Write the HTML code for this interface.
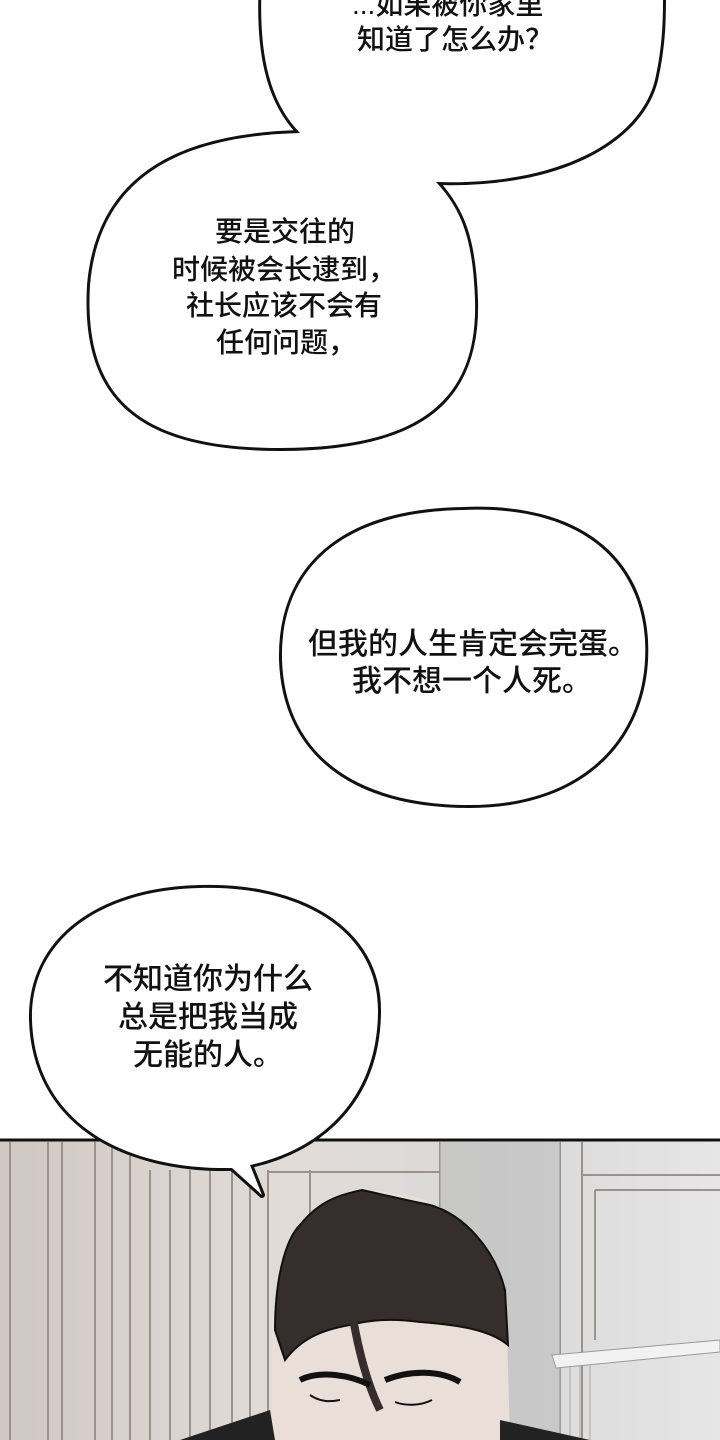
<!DOCTYPE html>
<html><head><meta charset="utf-8"><style>
html,body{margin:0;padding:0;background:#fff;}
body{width:720px;height:1440px;position:relative;overflow:hidden;font-family:"Liberation Sans","Noto Sans CJK SC",sans-serif;}
svg{position:absolute;left:0;top:0;}
.t{position:absolute;color:#111;white-space:nowrap;font-weight:500;}
.a{font-size:28px;line-height:28px;}
.b{font-size:30px;line-height:30px;}
</style></head><body>
<svg width="720" height="1440" viewBox="0 0 720 1440">
<defs>
<linearGradient id="bg" x1="0" x2="1" y1="0" y2="0">
<stop offset="0" stop-color="#cfc7c2"/><stop offset="0.4" stop-color="#e2dcd8"/><stop offset="0.7" stop-color="#d8d8d8"/><stop offset="1" stop-color="#e6e6e6"/>
</linearGradient>
</defs>
<rect x="0" y="1140" width="720" height="300" fill="url(#bg)"/>
<g stroke="#9c928d" stroke-width="2" fill="none">
<line x1="10" y1="1142" x2="10" y2="1440"/><line x1="48" y1="1142" x2="48" y2="1440"/>
<line x1="62" y1="1142" x2="62" y2="1440"/><line x1="95" y1="1142" x2="95" y2="1440"/>
<line x1="112" y1="1142" x2="112" y2="1440"/><line x1="130" y1="1150" x2="130" y2="1440"/>
<line x1="150" y1="1170" x2="150" y2="1440"/><line x1="170" y1="1170" x2="170" y2="1440"/>
<line x1="190" y1="1170" x2="190" y2="1440"/><line x1="210" y1="1170" x2="210" y2="1440"/>
<line x1="232" y1="1170" x2="232" y2="1440"/><line x1="250" y1="1170" x2="250" y2="1440"/>
<line x1="268" y1="1170" x2="268" y2="1440"/><line x1="310" y1="1170" x2="310" y2="1240"/>
<line x1="268" y1="1172" x2="440" y2="1172"/><line x1="440" y1="1142" x2="440" y2="1250"/>
<line x1="560" y1="1142" x2="560" y2="1440"/><line x1="582" y1="1142" x2="582" y2="1440"/>
<line x1="582" y1="1175" x2="720" y2="1175"/><line x1="595" y1="1190" x2="720" y2="1190"/>
<line x1="595" y1="1190" x2="595" y2="1340"/>
</g>
<rect x="440" y="1142" width="120" height="298" fill="#bdbdbd" opacity="0.6"/>
<path d="M552,1355 L720,1340 L720,1352 L556,1368 Z" fill="#f2f2f2" stroke="#999"/>
<g stroke="#aaa"><line x1="560" y1="1368" x2="560" y2="1440"/><line x1="570" y1="1366" x2="570" y2="1440"/><line x1="580" y1="1365" x2="580" y2="1440"/><line x1="590" y1="1364" x2="590" y2="1440"/></g>
<path d="M272,1440 L272,1330 C272,1290 285,1240 300,1225 C320,1200 340,1195 360,1188 L410,1196 C440,1200 480,1230 500,1270 L507,1330 L510,1440 Z" fill="#eaded9"/>
<path d="M275,1330 C275,1280 285,1240 300,1225 C320,1200 340,1195 362,1190 C385,1195 405,1200 430,1205 C465,1215 495,1250 505,1290 L508,1345 C490,1330 460,1325 420,1322 C390,1318 370,1320 350,1325 C320,1330 300,1340 285,1360 Z" fill="#352e2c" stroke="#111" stroke-width="2"/>
<path d="M350,1300 C356,1340 365,1380 380,1410" stroke="#352e2c" stroke-width="8" fill="none"/>
<path d="M300,1380 C320,1370 350,1375 370,1385 M385,1380 C410,1370 440,1370 460,1382" stroke="#111" stroke-width="6" fill="none"/>
<path d="M310,1395 C320,1402 330,1402 340,1400 M395,1402 C405,1406 420,1406 432,1400" stroke="#111" stroke-width="2" fill="none"/>
<path d="M180,1440 L270,1410 L275,1440 Z M500,1420 L590,1440 L500,1440 Z" fill="#222"/>
<line x1="0" y1="1140" x2="720" y2="1140" stroke="#111" stroke-width="3"/>
<g id="shapes" fill="#111" stroke="#111" stroke-width="6" stroke-linejoin="round">
<path d="M262,-20 C258,50 268,100 300,133 C340,165 390,182 436,182 C560,186 640,140 655,80 C664,40 663,10 663,-20 Z"/>
<path d="M300,133 C190,136 100,170 90,285 C84,390 130,448 280,448 C420,448 478,400 475,300 C473,240 462,210 436,182 C400,150 350,135 300,133 Z"/>
<path d="M463,510 C580,505 640,560 645,640 C650,730 590,805 470,805 C350,805 285,750 282,660 C280,570 340,512 463,510 Z"/>
<path d="M200,888 C300,885 378,930 378,1010 C378,1100 320,1150 250,1165 L262,1195 L232,1168 C120,1170 35,1120 32,1020 C30,940 100,890 200,888 Z"/>
</g>
<g fill="#fff" stroke="none">
<path d="M262,-20 C258,50 268,100 300,133 C340,165 390,182 436,182 C560,186 640,140 655,80 C664,40 663,10 663,-20 Z"/>
<path d="M300,133 C190,136 100,170 90,285 C84,390 130,448 280,448 C420,448 478,400 475,300 C473,240 462,210 436,182 C400,150 350,135 300,133 Z"/>
<path d="M463,510 C580,505 640,560 645,640 C650,730 590,805 470,805 C350,805 285,750 282,660 C280,570 340,512 463,510 Z"/>
<path d="M200,888 C300,885 378,930 378,1010 C378,1100 320,1150 250,1165 L262,1195 L232,1168 C120,1170 35,1120 32,1020 C30,940 100,890 200,888 Z"/>
</g>
</svg>
<div class="t a" style="left:352px;top:-9px;">...如果被你家里</div>
<div class="t a" style="left:357px;top:26px;">知道了怎么办？</div>
<div class="t a" style="left:215px;top:218px;">要是交往的</div>
<div class="t a" style="left:172px;top:256px;">时候被会长逮到，</div>
<div class="t a" style="left:186px;top:292px;">社长应该不会有</div>
<div class="t a" style="left:216px;top:329px;">任何问题，</div>
<div class="t b" style="left:308px;top:630px;">但我的人生肯定会完蛋。</div>
<div class="t b" style="left:352px;top:667px;">我不想一个人死。</div>
<div class="t b" style="left:103px;top:965px;">不知道你为什么</div>
<div class="t b" style="left:118px;top:1003px;">总是把我当成</div>
<div class="t b" style="left:133px;top:1041px;">无能的人。</div>
</body></html>
